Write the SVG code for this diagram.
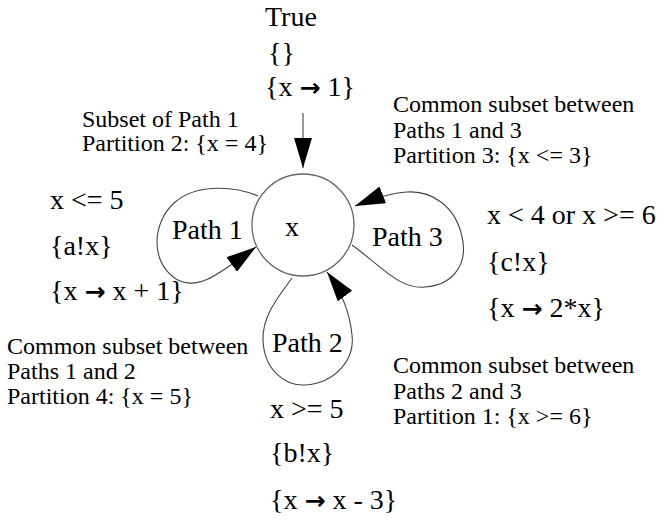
<svg xmlns="http://www.w3.org/2000/svg" width="666" height="522" viewBox="0 0 666 522">
<style>
text{font-family:"Liberation Serif","Times New Roman",serif;fill:#000}
.big{font-size:28px}
.small{font-size:24px}
.arr{font-family:"DejaVu Sans",sans-serif;font-size:25px;font-weight:bold}
.edge{fill:none;stroke:#444;stroke-width:1.1}
.state{fill:#fff;stroke:#666;stroke-width:1.3}
</style>
<defs>
<marker id="ah" markerUnits="userSpaceOnUse" markerWidth="30" markerHeight="18" viewBox="0 0 30 18" refX="30" refY="9" orient="auto">
<path d="M0,0 L30,9 L0,18 z" fill="#000"/>
</marker>
</defs>
<rect width="666" height="522" fill="#fff"/>
<g id="connectors">
<path class="edge" d="M303,113 L303,168" stroke="#000" marker-end="url(#ah)"/>
<path id="path1" class="edge" d="M258,196 C235,186 196,183 174,203 C152,223 150,262 176,279 C198,292 220,273 256,247" marker-end="url(#ah)"/>
<path id="path3" class="edge" d="M352,245 C380,265 400,290 425,287 C455,285 468,262 462,237 C456,207 432,190 407,192 C390,193 375,198 355,206" marker-end="url(#ah)"/>
<path id="path2" class="edge" d="M292,278 C280,295 262,315 263,340 C264,370 285,386 305,385 C335,383 355,360 352,335 C350,315 342,292 327,272" marker-end="url(#ah)"/>
</g>
<g id="node-x">
<circle class="state" cx="303" cy="225" r="51"/>
<text class="big" x="285" y="236">x</text>
</g>
<g id="init-label">
<text class="big" x="265" y="26">True</text>
<text class="big" x="268" y="62">{}</text>
<text class="big" x="265" y="96">{x <tspan class="arr">→</tspan> 1}</text>
</g>
<g id="path1-label">
<text class="big" x="172" y="239">Path 1</text>
<text class="big" x="50" y="209">x &lt;= 5</text>
<text class="big" x="50" y="255">{a!x}</text>
<text class="big" x="50" y="300">{x <tspan class="arr">→</tspan> x + 1}</text>
</g>
<g id="path2-label">
<text class="big" x="272" y="352">Path 2</text>
<text class="big" x="270" y="418">x &gt;= 5</text>
<text class="big" x="270" y="462">{b!x}</text>
<text class="big" x="270" y="509">{x <tspan class="arr">→</tspan> x - 3}</text>
</g>
<g id="path3-label">
<text class="big" x="372" y="246">Path 3</text>
<text class="big" x="487" y="224">x &lt; 4 or x &gt;= 6</text>
<text class="big" x="487" y="271">{c!x}</text>
<text class="big" x="487" y="317">{x <tspan class="arr">→</tspan> 2*x}</text>
</g>
<g id="partition2">
<text class="small" x="82" y="127">Subset of Path 1</text>
<text class="small" x="82" y="151">Partition 2: {x = 4}</text>
</g>
<g id="partition3">
<text class="small" x="393" y="112">Common subset between</text>
<text class="small" x="393" y="138">Paths 1 and 3</text>
<text class="small" x="393" y="163">Partition 3: {x &lt;= 3}</text>
</g>
<g id="partition4">
<text class="small" x="7" y="354">Common subset between</text>
<text class="small" x="7" y="379">Paths 1 and 2</text>
<text class="small" x="7" y="404">Partition 4: {x = 5}</text>
</g>
<g id="partition1">
<text class="small" x="393" y="373">Common subset between</text>
<text class="small" x="393" y="399">Paths 2 and 3</text>
<text class="small" x="393" y="424">Partition 1: {x &gt;= 6}</text>
</g>
</svg>
